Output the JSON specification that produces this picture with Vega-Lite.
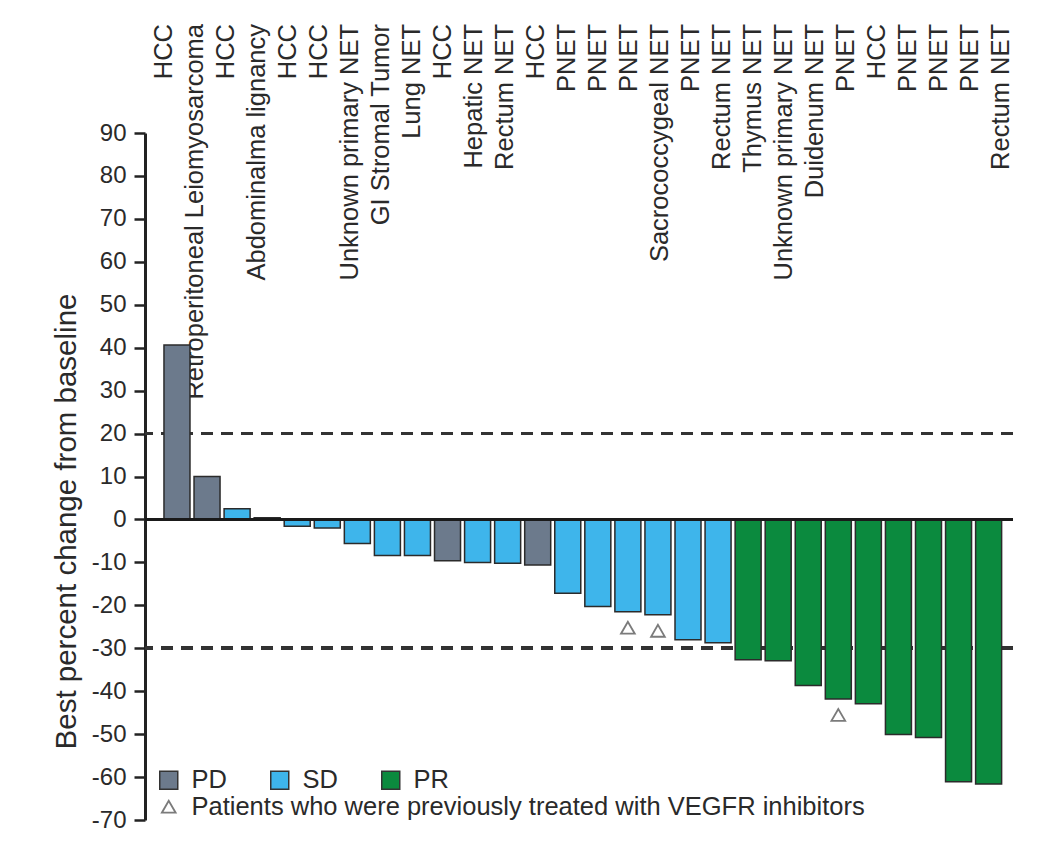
{
  "$schema": "https://vega.github.io/schema/vega-lite/v6.json",
  "padding": {"left": 51, "top": 23, "right": 5, "bottom": 5},
  "background": "white",
  "config": {"font": "Liberation Sans", "view": {"stroke": null}},
  "spacing": 0,
  "bounds": "flush",
  "data": {"values": [
    {"id": 1, "tumor": "HCC", "value": 40.6, "response": "PD"},
    {"id": 2, "tumor": "Retroperitoneal Leiomyosarcoma", "value": 10, "response": "PD"},
    {"id": 3, "tumor": "HCC", "value": 2.5, "response": "SD"},
    {"id": 4, "tumor": "Abdominalma lignancy", "value": 0.4, "response": "PD"},
    {"id": 5, "tumor": "HCC", "value": -1.6, "response": "SD"},
    {"id": 6, "tumor": "HCC", "value": -2, "response": "SD"},
    {"id": 7, "tumor": "Unknown primary NET", "value": -5.6, "response": "SD"},
    {"id": 8, "tumor": "GI Stromal Tumor", "value": -8.4, "response": "SD"},
    {"id": 9, "tumor": "Lung NET", "value": -8.4, "response": "SD"},
    {"id": 10, "tumor": "HCC", "value": -9.6, "response": "PD"},
    {"id": 11, "tumor": "Hepatic NET", "value": -10, "response": "SD"},
    {"id": 12, "tumor": "Rectum NET", "value": -10.2, "response": "SD"},
    {"id": 13, "tumor": "HCC", "value": -10.6, "response": "PD"},
    {"id": 14, "tumor": "PNET", "value": -17.2, "response": "SD"},
    {"id": 15, "tumor": "PNET", "value": -20.3, "response": "SD"},
    {"id": 16, "tumor": "PNET", "value": -21.5, "response": "SD", "prior": "Patients who were previously treated with VEGFR inhibitors"},
    {"id": 17, "tumor": "Sacrococcygeal NET", "value": -22.2, "response": "SD", "prior": "Patients who were previously treated with VEGFR inhibitors"},
    {"id": 18, "tumor": "PNET", "value": -28, "response": "SD"},
    {"id": 19, "tumor": "Rectum NET", "value": -28.7, "response": "SD"},
    {"id": 20, "tumor": "Thymus NET", "value": -32.7, "response": "PR"},
    {"id": 21, "tumor": "Unknown primary NET", "value": -32.9, "response": "PR"},
    {"id": 22, "tumor": "Duidenum NET", "value": -38.7, "response": "PR"},
    {"id": 23, "tumor": "PNET", "value": -41.8, "response": "PR", "prior": "Patients who were previously treated with VEGFR inhibitors"},
    {"id": 24, "tumor": "HCC", "value": -42.9, "response": "PR"},
    {"id": 25, "tumor": "PNET", "value": -50.1, "response": "PR"},
    {"id": 26, "tumor": "PNET", "value": -50.8, "response": "PR"},
    {"id": 27, "tumor": "PNET", "value": -61.1, "response": "PR"},
    {"id": 28, "tumor": "Rectum NET", "value": -61.6, "response": "PR"}
  ]},
  "vconcat": [
    {
      "width": 868,
      "height": 109,
      "mark": {"type": "text", "angle": 270, "align": "right", "baseline": "middle", "fontSize": 25.5, "color": "#2a2a2a"},
      "encoding": {
        "x": {"field": "id", "type": "ordinal", "sort": null, "axis": null,
              "scale": {"paddingInner": 0.135, "paddingOuter": 0.505, "align": 0.625}},
        "y": {"datum": 1, "scale": {"domain": [0, 1]}, "axis": null},
        "text": {"field": "tumor"}
      }
    },
    {
      "width": 868,
      "height": 687,
      "layer": [
        {
          "mark": {"type": "rule", "strokeDash": [12, 8], "strokeWidth": 3, "color": "#333333"},
          "encoding": {"y": {"datum": 20}}
        },
        {
          "mark": {"type": "rule", "strokeDash": [12, 8], "strokeWidth": 3, "color": "#333333"},
          "encoding": {"y": {"datum": -30}}
        },
        {
          "mark": {"type": "bar", "stroke": "#2b2b2b", "strokeWidth": 1.5},
          "encoding": {
            "x": {"field": "id", "type": "ordinal", "sort": null, "axis": null,
                  "scale": {"paddingInner": 0.135, "paddingOuter": 0.505, "align": 0.625}},
            "y": {"field": "value", "type": "quantitative",
                  "scale": {"domain": [-70, 90], "nice": false},
                  "axis": {"values": [-70, -60, -50, -40, -30, -20, -10, 0, 10, 20, 30, 40, 50, 60, 70, 80, 90],
                           "labelExpr": "toString(datum.value)",
                           "title": "Best percent change from baseline", "titleFontSize": 29.5, "titleFontWeight": "normal",
                           "titleColor": "#2a2a2a", "titlePadding": 10, "titleY": 388,
                           "labelFontSize": 24, "labelColor": "#2a2a2a", "labelPadding": 8,
                           "tickSize": 11, "tickWidth": 2.5, "tickColor": "#222222",
                           "domainWidth": 3, "domainColor": "#222222", "grid": false}},
            "color": {"field": "response", "type": "nominal",
                      "scale": {"domain": ["PD", "SD", "PR"], "range": ["#6c7a8c", "#3eb5eb", "#0b8a3e"]},
                      "legend": {"orient": "none", "legendX": 11, "legendY": 743, "direction": "horizontal", "columns": 3,
                                 "title": null, "symbolType": "square", "symbolSize": 324, "symbolStrokeColor": "#333333",
                                 "symbolStrokeWidth": 1.5, "labelFontSize": 25.5, "labelOffset": 10, "columnPadding": 40,
                                 "padding": 0, "labelColor": "#2a2a2a"}}
          }
        },
        {
          "transform": [{"filter": "isValid(datum.prior)"}],
          "mark": {"type": "point", "filled": false, "stroke": "#444444", "strokeWidth": 1.8, "size": 190, "yOffset": 16},
          "encoding": {
            "x": {"field": "id", "type": "ordinal", "sort": null, "axis": null,
                  "scale": {"paddingInner": 0.135, "paddingOuter": 0.505, "align": 0.625}},
            "y": {"field": "value", "type": "quantitative"},
            "shape": {"field": "prior", "type": "nominal", "scale": {"range": ["triangle-up"]},
                      "legend": {"orient": "none", "legendX": 11, "legendY": 770, "title": null,
                                 "labelFontSize": 25.5, "labelLimit": 0, "labelOffset": 10, "labelColor": "#2a2a2a",
                                 "symbolStrokeColor": "#444444", "symbolFillColor": "transparent", "symbolStrokeWidth": 1.8,
                                 "symbolSize": 190, "padding": 0}}
          }
        },
        {
          "mark": {"type": "rule", "strokeWidth": 3, "color": "#1a1a1a"},
          "encoding": {"y": {"datum": 0}}
        }
      ]
    }
  ]
}
